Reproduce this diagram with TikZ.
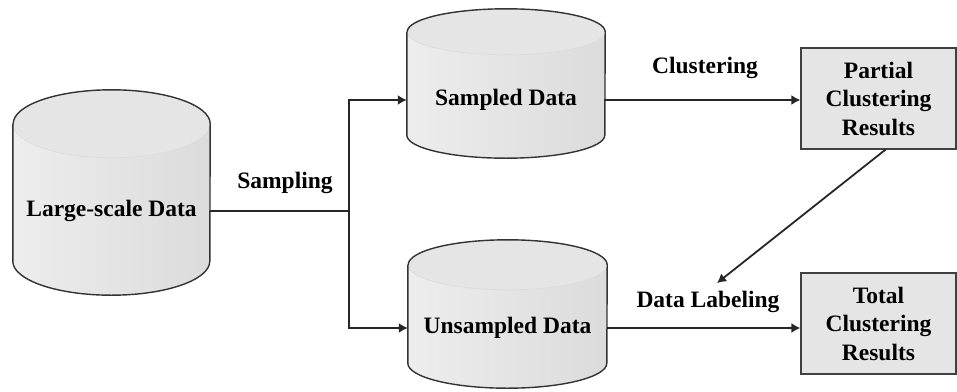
\documentclass[tikz,border=0pt]{standalone}
\usepackage{fontspec}
\setmainfont{Liberation Serif}
\usetikzlibrary{arrows.meta,calc}

% cylinder drawn around a named node: #1 node, #2 x radius, #3 end radius
\newcommand{\dbcyl}[3]{%
    \path[dbbody] ($(#1.north west)+(0,#3)$) -- ($(#1.south west)+(0,-#3)$)
        arc[start angle=180, end angle=0, x radius=#2, y radius=#3]
        -- ($(#1.north east)+(0,#3)$)
        arc[start angle=0, end angle=-180, x radius=#2, y radius=#3] -- cycle;
    \path[dbtop] ($(#1.north)+(0,#3)$) ellipse[x radius=#2, y radius=#3];
    \draw[dbline] ($(#1.north west)+(0,#3)$) -- ($(#1.south west)+(0,-#3)$)
        arc[start angle=180, end angle=0, x radius=#2, y radius=#3]
        -- ($(#1.north east)+(0,#3)$)
        arc[start angle=0, end angle=-180, x radius=#2, y radius=#3];
}

\begin{document}
\begin{tikzpicture}[x=1pt, y=-1pt,
        db/.style={inner sep=0pt},
        dbbody/.style={left color=black!7, right color=black!14},
        dbtop/.style={fill=black!10, draw=black!14, line width=0.6pt},
        dbline/.style={draw=black!80, line width=1.4pt},
        result/.style={draw=black!75, fill=black!10, line width=1.2pt, minimum width=155pt,
            minimum height=101pt, align=center, font=\fontsize{23.5}{28.5}\selectfont\bfseries},
        txt/.style={font=\fontsize{23.5}{26}\selectfont\bfseries, inner sep=0pt},
        link/.style={line width=1.8pt, black!85},
        arr/.style={link, -{Latex[length=9pt, width=10pt]}}
    ]
    \useasboundingbox (0,0) rectangle (957,391);
    % Bases de dados
    \node[db, minimum width=197pt, minimum height=205pt] (big) at (111.5,192.5) {};
    \node[db, minimum width=198pt, minimum height=149pt] (smp) at (506,83.5) {};
    \node[db, minimum width=199pt, minimum height=148pt] (usmp) at (507.5,314) {};
    \dbcyl{big}{98.5}{34}
    \dbcyl{smp}{99}{23}
    \dbcyl{usmp}{99.5}{25}
    \node[txt] (bigtxt) at (111.5,211) {Large-scale Data};
    \node[txt] (smptxt) at (506,100) {Sampled Data};
    \node[txt] (usmptxt) at (507.5,328) {Unsampled Data};
    % Resultados
    \node[result] (part) at (878.5,98.5) {Partial\\Clustering\\Results};
    \node[result] (total) at (878.5,323.5) {Total\\Clustering\\Results};
    % Rótulos
    \node[txt] (sampling) at (285,183) {Sampling};
    \node[txt] (clust) at (705,68) {Clustering};
    \node[txt] (label) at (708,302) {Data Labeling};
    \coordinate (split) at (349,211);
    % Conexões
    \draw[link] (big.east |- bigtxt) -- (split);
    \draw[arr] (split) |- (smp.west |- smptxt);
    \draw[arr] (split) |- (usmp.west |- usmptxt);
    \draw[arr] (smp.east |- smptxt) -- (part.west |- smptxt);
    \draw[arr] (usmp.east |- usmptxt) -- (total.west |- usmptxt);
    \draw[arr] ([xshift=7pt]part.south) -- ([xshift=9pt,yshift=8pt]label.north);
\end{tikzpicture}
\end{document}
